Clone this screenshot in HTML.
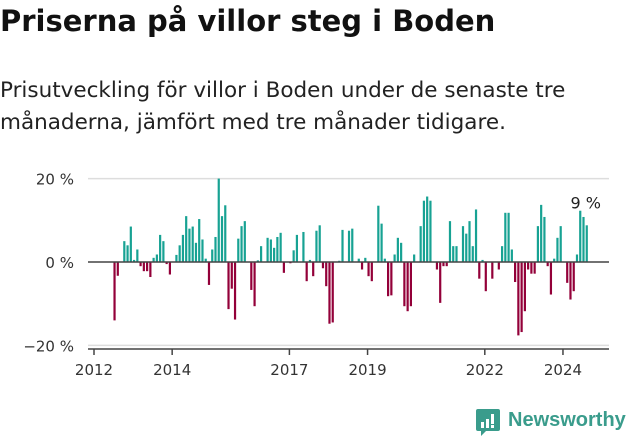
<!DOCTYPE html>
<html><head><meta charset="utf-8"><style>
body{margin:0;background:#fff;width:631px;height:439px;overflow:hidden;font-family:"DejaVu Sans","Liberation Sans",sans-serif;}
#title{position:absolute;left:0;top:4px;font-size:29px;font-weight:bold;color:#111;margin:0;letter-spacing:0}
#sub{position:absolute;left:0;top:75px;font-size:21.5px;line-height:32px;color:#222;width:630px;white-space:nowrap}
svg{position:absolute;left:0;top:0}
</style></head><body>
<h1 id="title">Priserna på villor steg i Boden</h1>
<div id="sub">Prisutveckling för villor i Boden under de senaste tre<br>månaderna, jämfört med tre månader tidigare.</div>
<svg id="chart" width="631" height="439"></svg>
<script>
const startYear = 2012, startMonth = 6; // July 2012
const values = [-14,-3.3,0,5,4,8.5,0.5,3,-1,-2.2,-2.2,-3.6,1,1.8,6.5,5,-0.5,-3,0,1.7,4,6.5,11,8,8.5,4.6,10.3,5.4,0.8,-5.5,3,6,20,11,13.6,-11.3,-6.4,-13.8,5.6,8.6,9.8,0,-6.7,-10.6,0.4,3.8,0,5.8,5.4,3.4,6,7,-2.6,0,-0.3,2.8,6.5,0,7.2,-4.6,0.5,-3.4,7.5,8.8,-1.5,-5.8,-14.8,-14.5,0,0.3,7.7,0,7.5,8,0,0.8,-1.8,1,-3.4,-4.6,0,13.5,9.2,0.8,-8.2,-8,1.8,5.8,4.6,-10.6,-11.8,-10.6,1.8,0,8.6,14.7,15.7,14.7,0,-1.8,-9.8,-1,-1,9.8,3.8,3.8,0,8.6,6.8,9.8,3.8,12.6,-4,0.5,-7,0,-4,0,-1.8,3.8,11.8,11.8,3,-4.8,-17.6,-16.8,-11.8,-1.8,-2.8,-2.8,8.6,13.7,10.8,-1,-7.8,0.8,5.8,8.6,0,-5,-9,-7,1.8,12.3,10.8,8.8];
const yTicks = [20,0,-20];
const yTickLabels = ["20 %","0 %","\u221220 %"];
const xTicks = [2012,2014,2017,2019,2022,2024];
const NS="http://www.w3.org/2000/svg";
const svg=document.getElementById('chart');
const x=t=>94+39.08*(t-2012);
const y=v=>262-4.17*v;
function mk(tag,attrs){const e=document.createElementNS(NS,tag);for(const k in attrs)e.setAttribute(k,attrs[k]);svg.appendChild(e);return e;}
yTicks.forEach((v,i)=>{
  if(v!==0){const g=mk('line',{x1:88,x2:609,y1:y(v),y2:y(v),stroke:'#ddd','stroke-width':1.5});
  
  }
  const t=mk('text',{x:74,y:y(v)+6,'text-anchor':'end','font-size':15,fill:'#333'});
  t.textContent=yTickLabels[i];
  
  
});
values.forEach((v,i)=>{
  const t=startYear+(startMonth+i)/12;
  const cx=x(t)+1;
  const top=Math.min(y(v),y(0)),h=Math.abs(y(v)-y(0));
  const b=mk('rect',{x:cx-1.1,y:top,width:2.2,height:h,fill:v>=0?'#17a293':'#930039'});
  
  
});
const z=mk('line',{x1:88,x2:609,y1:y(0),y2:y(0),stroke:'#444','stroke-width':1.5});


const ax=mk('line',{x1:88,x2:609,y1:349,y2:349,stroke:'#444','stroke-width':1.5});


xTicks.forEach(yr=>{
  const tk=mk('line',{x1:x(yr),x2:x(yr),y1:349,y2:355,stroke:'#444','stroke-width':1.5});
  
  
  const t=mk('text',{x:x(yr),y:375,'text-anchor':'middle','font-size':15,fill:'#333'});
  t.textContent=yr;
  
  
});
const last=values[values.length-1];
const lt=mk('text',{x:x(startYear+(startMonth+values.length-1)/12),y:y(last)-17,'text-anchor':'middle','font-size':16,fill:'#222'});
lt.textContent=Math.round(last)+' %';


</script>
<div style="position:absolute;left:476px;top:409px;display:flex;align-items:center;font-family:'Liberation Sans',sans-serif">
<svg width="24" height="28" viewBox="0 0 24 28" style="position:static"><path d="M2 0H22Q24 0 24 2V20Q24 22 22 22H10L5 27V22H2Q0 22 0 20V2Q0 0 2 0Z" fill="#3a9c8c"/><rect x="5" y="13" width="3" height="6" fill="#fff"/><rect x="10" y="10" width="3" height="9" fill="#fff"/><rect x="15" y="5" width="3" height="10" fill="#fff"/><rect x="15" y="16" width="3" height="3" fill="#fff"/></svg>
<span style="font-size:20px;font-weight:bold;color:#3a9c8c;margin-left:8px;margin-top:-6px">Newsworthy</span></div>
</body></html>
